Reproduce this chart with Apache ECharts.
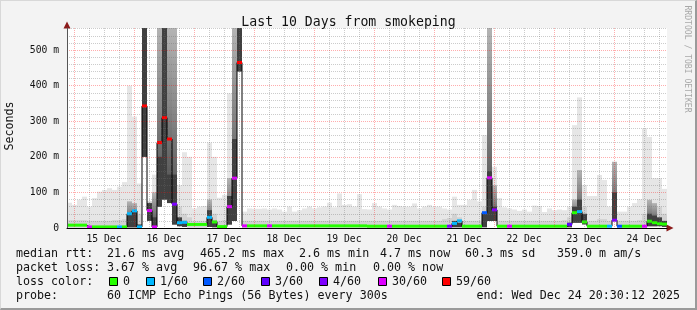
<!DOCTYPE html>
<html><head><meta charset="utf-8">
<script src="https://cdn.jsdelivr.net/npm/echarts@6/dist/echarts.min.js"></script>
<style>
html,body{margin:0;padding:0;background:#f3f3f3;overflow:hidden;}
#chart{position:absolute;left:0;top:0;width:697px;height:310px;}
#frame{position:absolute;left:0;top:0;width:697px;height:310px;box-sizing:border-box;border-style:solid;border-width:1px 2px 2px 1px;border-color:#d8d8d8 #9a9a9a #9a9a9a #d8d8d8;pointer-events:none;}
</style></head>
<body><div id="chart"></div><div id="frame"></div>
<script>
// ---- time axis (hours since 15 Dec 00:00), 2-hour bins ----
const startHour = -2.8;
const endHour = 237.2;
const binHours = 2;
const dayTicks = [0, 24, 48, 72, 96, 120, 144, 168, 192, 216];
const labelHours = [12, 36, 60, 84, 108, 132, 156, 180, 204, 228];
const dayLabels = ['15 Dec', '16 Dec', '17 Dec', '18 Dec', '19 Dec', '20 Dec', '21 Dec', '22 Dec', '23 Dec', '24 Dec'];
const sixHourTicks = [6,12,18, 30,36,42, 54,60,66, 78,84,90, 102,108,114, 126,132,138, 150,156,162, 174,180,186, 198,204,210, 222,228,234];
const yTicks = [0, 100, 200, 300, 400, 500];
const yMax = 562;

// ---- smoke (ms): bottom, top of light smoke, top of mid smoke, top of dark core ----
const smokeMin = [
  1,1,1,1,1,1,1,1,1,1,
  1,1,2,2,1,200,20,1,60,80,
  70,10,5,3,1,1,1,1,3,2,
  1,1,10,20,440,1,1,1,1,1,
  1,1,1,1,1,1,1,1,1,1,
  1,1,1,1,1,1,1,1,1,1,
  1,1,1,1,1,1,1,1,1,1,
  1,1,1,1,1,1,1,2,2,1,
  1,1,1,2,20,20,1,1,1,1,
  1,1,1,1,1,1,1,1,1,1,
  2,15,15,10,1,1,1,1,1,22,
  1,1,1,1,1,1,5,5,5,3
];
const smokeMax = [
  71,65,79,88,60,84,102,107,112,107,
  116,129,400,313,125,562,75,150,562,562,
  562,562,120,213,200,55,60,62,240,200,
  85,93,378,562,562,46,55,54,54,55,
  52,55,52,46,60,46,50,55,60,55,
  58,60,71,58,97,65,67,60,95,53,
  52,70,60,55,52,65,62,60,60,69,
  55,60,65,60,60,55,52,88,65,65,
  79,107,75,261,562,172,84,58,55,52,
  48,52,46,63,62,45,55,50,52,50,
  60,289,367,121,90,90,149,135,60,186,
  46,46,60,70,81,280,256,140,140,110
];
const smokeMid = [
  22,22,22,22,20,20,20,20,20,22,
  22,25,75,70,40,562,75,100,562,562,
  562,562,60,40,30,20,20,20,80,40,
  20,22,140,562,562,20,20,20,20,20,
  20,20,20,20,20,20,20,20,20,20,
  20,20,20,20,20,20,20,20,20,20,
  20,20,20,20,20,20,20,20,20,20,
  20,20,20,20,20,25,28,40,30,20,
  20,20,20,60,562,120,20,20,20,20,
  20,20,20,20,20,20,20,20,20,22,
  30,80,163,60,20,20,25,25,20,186,
  20,20,20,20,22,40,79,70,60,40
];
const smokeCore = [
  0,0,0,0,0,0,0,0,0,0,
  0,0,40,50,10,562,70,30,200,562,
  150,150,30,20,0,0,0,0,50,20,
  0,0,90,250,562,0,0,0,0,0,
  0,0,0,0,0,0,0,0,0,0,
  0,0,0,0,0,0,0,0,0,0,
  0,0,0,0,0,0,0,0,0,0,
  0,0,0,0,0,0,0,20,15,0,
  0,0,0,45,160,60,0,0,0,0,
  0,0,0,0,0,0,0,0,0,0,
  15,60,80,40,0,0,0,0,0,100,
  0,0,0,0,0,0,40,35,30,20
];
// ---- median rtt (ms) and lost pings out of 60 ----
const medianRtt = [
  8,8,8,8,3,3,3,3,3,3,
  3,3,40,48,3,343,49,3,240,310,
  250,67,15,16,10,10,10,10,30,17,
  4,4,60,140,465,6,6,6,6,6,
  6,6,6,6,6,6,6,6,6,6,
  6,6,6,6,6,6,6,6,6,6,
  5,5,5,5,5,5,5,5,5,5,
  5,5,5,5,5,5,5,13,20,5,
  5,5,5,43,141,51,5,5,5,5,
  5,5,5,5,5,5,5,5,5,5,
  10,43,46,17,5,5,5,5,5,22,
  5,5,5,5,5,5,19,15,12,11
];
const lossCount = [
  0,0,0,0,30,0,0,0,0,0,
  1,0,1,1,1,59,30,30,59,59,
  59,4,1,1,0,0,0,0,1,0,
  0,0,30,30,59,30,0,0,0,0,
  30,0,0,0,0,0,0,0,0,0,
  0,0,0,0,0,0,0,0,0,0,
  0,0,0,0,30,0,0,0,0,0,
  0,0,0,0,0,0,4,1,1,0,
  0,0,0,2,30,4,0,0,30,0,
  0,0,0,0,0,0,0,0,0,0,
  3,0,1,0,0,0,0,0,1,4,
  2,0,0,0,0,30,0,0,0,0
];
const lossSteps = [0, 1, 2, 3, 4, 30, 59];
const lossColors = ['#26ff00', '#00b8ff', '#0059ff', '#5e00ff', '#7e00ff', '#dd00ff', '#ff0000'];
const lossLabels = ['0', '1/60', '2/60', '3/60', '4/60', '30/60', '59/60'];

// ---- legend text ----
const statRtt = ['median rtt:', '21.6 ms avg', '465.2 ms max', '2.6 ms min', '4.7 ms now', '60.3 ms sd', '359.0 m am/s'];
const statLoss = ['packet loss:', '3.67 % avg', '96.67 % max', '0.00 % min', '0.00 % now'];
const probeText = ['probe:', '60 ICMP Echo Pings (56 Bytes) every 300s', 'end: Wed Dec 24 20:30:12 2025'];

const MONO = '"DejaVu Sans Mono", "Liberation Mono", monospace';
function lossColor(n) {
  let c = lossColors[0];
  for (let k = 0; k < lossSteps.length; k++) if (n >= lossSteps[k]) c = lossColors[k];
  return c;
}
function binData(topArr) {
  return topArr.map((t, i) => [startHour + i * binHours, startHour + (i + 1) * binHours, smokeMin[i], t]);
}
function bandSeries(topArr, styleFn, z) {
  return {
    type: 'custom', z: z, clip: true, silent: true,
    data: binData(topArr),
    encode: { x: [0, 1], y: [2, 3] },
    renderItem: function (params, api) {
      const lo = api.value(2), hi = api.value(3);
      if (hi <= lo) return { type: 'group', children: [] };
      const a = api.coord([api.value(0), hi]);
      const b = api.coord([api.value(1), lo]);
      return { type: 'rect', shape: { x: a[0], y: a[1], width: b[0] - a[0], height: b[1] - a[1] }, style: styleFn(hi - lo) };
    }
  };
}

const chart = echarts.init(document.getElementById('chart'), null, { renderer: 'canvas' });

const graphics = [];
function txt(x, y, s, opt) {
  graphics.push(Object.assign({ type: 'text', x: x, y: y, silent: true,
    style: Object.assign({ text: s, fontFamily: MONO, fontSize: 11.66, fill: '#111', align: 'left', verticalAlign: 'middle' }, opt || {}) }));
}
const statRttX = [16, 107, 200, 299, 380, 465, 557];
statRtt.forEach((s, k) => txt(statRttX[k], 254, s));
const statLossX = [16, 107, 193, 286, 373];
statLoss.forEach((s, k) => txt(statLossX[k], 268, s));
txt(16, 282, 'loss color:');
const boxX = [109, 146, 203, 261, 319, 378, 442];
lossLabels.forEach((s, k) => {
  graphics.push({ type: 'rect', silent: true, shape: { x: boxX[k] + 0.5, y: 277.5, width: 8, height: 8 },
    style: { fill: lossColors[k], stroke: '#000', lineWidth: 1 } });
  txt(boxX[k] + 14, 282, s);
});
txt(16, 296, probeText[0]);
txt(107, 296, probeText[1]);
txt(680, 296, probeText[2], { align: 'right' });
// axis title and watermark
graphics.push({ type: 'text', x: 10, y: 126, rotation: Math.PI / 2, silent: true,
  style: { text: 'Seconds', fontFamily: MONO, fontSize: 11.66, fill: '#111', align: 'center', verticalAlign: 'middle' } });
graphics.push({ type: 'text', x: 687, y: 59, rotation: -Math.PI / 2, silent: true,
  style: { text: 'RRDTOOL / TOBI OETIKER', fontFamily: MONO, fontSize: 8.1, fill: '#a8a8a8', align: 'center', verticalAlign: 'middle' } });

const minorGrid = { color: 'rgba(110,110,110,0.35)', type: [1, 1], width: 1 };
const majorGrid = { color: 'rgba(255,0,0,0.32)', type: [1, 1], width: 1 };

chart.setOption({
  animation: false,
  backgroundColor: '#f3f3f3',
  title: { text: 'Last 10 Days from smokeping', left: 'center', top: 11,
    textStyle: { fontFamily: MONO, fontSize: 13.2, fontWeight: 'normal', color: '#111' } },
  grid: { left: 67, top: 28, width: 600, height: 200, show: true, backgroundColor: '#ffffff', borderWidth: 0 },
  xAxis: [{
    type: 'value', min: startHour, max: endHour, z: 10,
    axisLine: { show: true, onZero: false, lineStyle: { color: '#000', width: 1 } },
    axisTick: { show: false, customValues: dayTicks },
    axisLabel: { customValues: labelHours, margin: 6, color: '#111', fontFamily: MONO, fontSize: 9.7,
      formatter: v => dayLabels[labelHours.indexOf(Math.round(v))] || '' },
    splitLine: { show: true, lineStyle: majorGrid }
  }, {
    type: 'value', min: startHour, max: endHour, z: 9, position: 'bottom',
    axisLine: { show: false }, axisLabel: { show: false },
    axisTick: { show: false, customValues: sixHourTicks },
    splitLine: { show: true, lineStyle: minorGrid }
  }],
  yAxis: {
    type: 'value', min: 0, max: yMax, interval: 100, z: 10,
    axisLine: { show: true, onZero: false, lineStyle: { color: '#555', width: 1 } },
    axisTick: { show: false, customValues: yTicks },
    axisLabel: { customValues: yTicks, margin: 8, color: '#111', fontFamily: MONO, fontSize: 9.7,
      formatter: v => v === 0 ? '0' : v + ' m' },
    splitLine: { show: true, lineStyle: majorGrid },
    minorTick: { show: false, splitNumber: 5 },
    minorSplitLine: { show: true, lineStyle: minorGrid }
  },
  series: [
    bandSeries(smokeMax, () => ({ fill: '#e6e6e6' }), 2),
    bandSeries(smokeMid, (h) => h > 60
      ? { fill: new echarts.graphic.LinearGradient(0, 1, 0, 0, [{ offset: 0, color: '#4a4a4a' }, { offset: 1, color: '#b4b4b4' }]) }
      : { fill: '#d2d2d2' }, 3),
    bandSeries(smokeCore, () => ({ fill: '#404040' }), 4),
    {
      type: 'line', z: 5, step: 'middle', symbol: 'none', silent: true,
      data: medianRtt.map((m, i) => [startHour + (i + 0.5) * binHours, m]),
      lineStyle: { color: '#000', width: 1 },
      markPoint: {
        symbol: 'triangle', symbolSize: 7, silent: true, label: { show: false },
        itemStyle: { color: '#8b1a1a' },
        data: [
          { coord: [endHour, 0], symbolRotate: -90, symbolOffset: [3, 0] },
          { coord: [startHour, yMax], symbolOffset: [0, -3] }
        ]
      }
    },
    {
      type: 'custom', z: 6, clip: true, silent: true,
      data: medianRtt.map((m, i) => [startHour + i * binHours, startHour + (i + 1) * binHours, m, lossCount[i]]),
      encode: { x: [0, 1], y: 2 },
      renderItem: function (params, api) {
        const a = api.coord([api.value(0), api.value(2)]);
        const b = api.coord([api.value(1), api.value(2)]);
        return { type: 'rect', shape: { x: a[0], y: a[1] - 1.5, width: b[0] - a[0], height: 3 },
          style: { fill: lossColor(api.value(3)) } };
      }
    }
  ],
  graphic: graphics
});
</script>
</body></html>
